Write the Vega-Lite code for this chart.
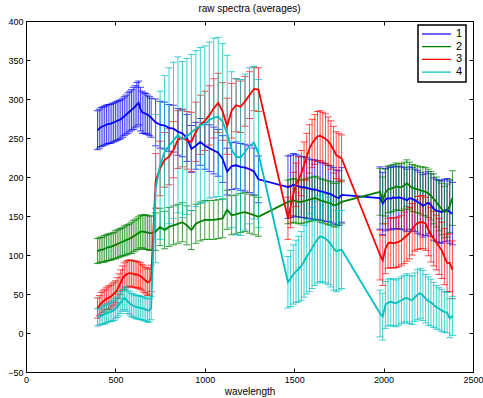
{
 "$schema": "https://vega.github.io/schema/vega-lite/v6.json",
 "width": 447,
 "height": 351,
 "autosize": {"type": "none"},
 "padding": {"left": 26, "top": 21, "right": 10, "bottom": 26},
 "background": "white",
 "title": {"text": "raw spectra (averages)", "fontSize": 10, "fontWeight": "normal", "font": "Liberation Sans", "color": "black", "offset": 3, "frame": "group", "anchor": "middle"},
 "config": {
  "view": {"stroke": "black", "strokeWidth": 1},
  "axis": {"domain": false, "grid": false, "ticks": true, "tickColor": "black", "tickSize": -4, "labelFontSize": 9, "labelFont": "Liberation Sans", "labelColor": "black", "labelPadding": 7, "labelFlush": false, "titleFontSize": 10, "titleFontWeight": "normal", "titleColor": "black", "titleFont": "Liberation Sans", "titlePadding": 2},
  "legend": {"strokeColor": "black", "strokeWidth": 1.5, "fillColor": "white", "padding": 3, "symbolSize": 841, "symbolStrokeWidth": 1.2, "symbolType": "stroke", "labelFontSize": 11, "labelFont": "Liberation Sans", "labelColor": "black", "clipHeight": 12, "rowPadding": 0.7, "labelOffset": 4}
 },
 "data": {"values": [
  {"w":400,"m1":260,"e1":25,"m2":105,"e2":16,"m3":32,"e3":13,"m4":20,"e4":11},
  {"w":410,"m1":262,"e1":25,"m2":106,"e2":16,"m3":35,"e3":13,"m4":21,"e4":11},
  {"w":420,"m1":264,"e1":25,"m2":107,"e2":16,"m3":38,"e3":14,"m4":22,"e4":11},
  {"w":430,"m1":265,"e1":25,"m2":107,"e2":16,"m3":40,"e3":14,"m4":23,"e4":12},
  {"w":440,"m1":266,"e1":25,"m2":108,"e2":17,"m3":42,"e3":14,"m4":24,"e4":12},
  {"w":450,"m1":267,"e1":25,"m2":109,"e2":17,"m3":44,"e3":14,"m4":25,"e4":12},
  {"w":460,"m1":268,"e1":25,"m2":110,"e2":17,"m3":45,"e3":15,"m4":26,"e4":12},
  {"w":470,"m1":268,"e1":25,"m2":110,"e2":17,"m3":46,"e3":15,"m4":27,"e4":12},
  {"w":480,"m1":269,"e1":25,"m2":111,"e2":17,"m3":48,"e3":15,"m4":28,"e4":13},
  {"w":490,"m1":270,"e1":25,"m2":112,"e2":17,"m3":50,"e3":15,"m4":29,"e4":13},
  {"w":500,"m1":271,"e1":25,"m2":113,"e2":18,"m3":52,"e3":15,"m4":31,"e4":13},
  {"w":510,"m1":272,"e1":25,"m2":114,"e2":18,"m3":55,"e3":16,"m4":33,"e4":13},
  {"w":520,"m1":273,"e1":25,"m2":115,"e2":18,"m3":60,"e3":16,"m4":36,"e4":14},
  {"w":530,"m1":274,"e1":25,"m2":116,"e2":18,"m3":65,"e3":16,"m4":39,"e4":14},
  {"w":540,"m1":276,"e1":25,"m2":117,"e2":18,"m3":70,"e3":16,"m4":42,"e4":14},
  {"w":550,"m1":278,"e1":25,"m2":118,"e2":19,"m3":73,"e3":17,"m4":45,"e4":15},
  {"w":560,"m1":280,"e1":25,"m2":119,"e2":19,"m3":75,"e3":17,"m4":43,"e4":15},
  {"w":570,"m1":282,"e1":26,"m2":120,"e2":19,"m3":76,"e3":17,"m4":40,"e4":15},
  {"w":580,"m1":284,"e1":26,"m2":121,"e2":19,"m3":77,"e3":17,"m4":38,"e4":15},
  {"w":590,"m1":286,"e1":26,"m2":122,"e2":20,"m3":76,"e3":17,"m4":36,"e4":15},
  {"w":600,"m1":288,"e1":27,"m2":124,"e2":20,"m3":76,"e3":17,"m4":35,"e4":15},
  {"w":610,"m1":290,"e1":27,"m2":125,"e2":20,"m3":75,"e3":17,"m4":34,"e4":15},
  {"w":620,"m1":293,"e1":28,"m2":127,"e2":20,"m3":75,"e3":17,"m4":33,"e4":15},
  {"w":630,"m1":295,"e1":28,"m2":128,"e2":21,"m3":74,"e3":17,"m4":33,"e4":15},
  {"w":640,"m1":287,"e1":28,"m2":130,"e2":21,"m3":73,"e3":17,"m4":32,"e4":15},
  {"w":650,"m1":283,"e1":27,"m2":130,"e2":21,"m3":71,"e3":17,"m4":32,"e4":15},
  {"w":660,"m1":282,"e1":26,"m2":130,"e2":22,"m3":69,"e3":17,"m4":31,"e4":15},
  {"w":670,"m1":281,"e1":26,"m2":129,"e2":22,"m3":67,"e3":17,"m4":30,"e4":15},
  {"w":680,"m1":280,"e1":25,"m2":129,"e2":22,"m3":65,"e3":17,"m4":29,"e4":15},
  {"w":690,"m1":278,"e1":25,"m2":128,"e2":22,"m3":66,"e3":17,"m4":29,"e4":15},
  {"w":700,"m1":276,"e1":25,"m2":128,"e2":22,"m3":70,"e3":17,"m4":32,"e4":15},
  {"w":725,"m1":270,"e1":30,"m2":130,"e2":24,"m3":195,"e3":35,"m4":185,"e4":95},
  {"w":750,"m1":267,"e1":30,"m2":136,"e2":24,"m3":211,"e3":35,"m4":215,"e4":95},
  {"w":775,"m1":266,"e1":30,"m2":132,"e2":24,"m3":222,"e3":35,"m4":232,"e4":98},
  {"w":800,"m1":263,"e1":30,"m2":136,"e2":25,"m3":226,"e3":36,"m4":240,"e4":100},
  {"w":825,"m1":262,"e1":30,"m2":138,"e2":25,"m3":235,"e3":36,"m4":247,"e4":100},
  {"w":850,"m1":258,"e1":30,"m2":140,"e2":25,"m3":248,"e3":37,"m4":254,"e4":100},
  {"w":875,"m1":256,"e1":30,"m2":142,"e2":25,"m3":250,"e3":37,"m4":248,"e4":100},
  {"w":900,"m1":250,"e1":30,"m2":138,"e2":25,"m3":247,"e3":37,"m4":252,"e4":100},
  {"w":925,"m1":236,"e1":30,"m2":132,"e2":25,"m3":245,"e3":38,"m4":257,"e4":100},
  {"w":950,"m1":240,"e1":30,"m2":140,"e2":25,"m3":258,"e3":38,"m4":262,"e4":100},
  {"w":975,"m1":245,"e1":30,"m2":143,"e2":25,"m3":267,"e3":38,"m4":266,"e4":100},
  {"w":1000,"m1":240,"e1":30,"m2":145,"e2":25,"m3":272,"e3":38,"m4":268,"e4":100},
  {"w":1025,"m1":237,"e1":30,"m2":145,"e2":25,"m3":279,"e3":38,"m4":273,"e4":100},
  {"w":1050,"m1":234,"e1":30,"m2":145,"e2":25,"m3":288,"e3":38,"m4":276,"e4":102},
  {"w":1075,"m1":231,"e1":30,"m2":146,"e2":25,"m3":295,"e3":38,"m4":277,"e4":102},
  {"w":1100,"m1":223,"e1":30,"m2":147,"e2":25,"m3":284,"e3":37,"m4":271,"e4":100},
  {"w":1125,"m1":207,"e1":30,"m2":158,"e2":25,"m3":265,"e3":36,"m4":256,"e4":100},
  {"w":1150,"m1":214,"e1":30,"m2":151,"e2":25,"m3":285,"e3":35,"m4":235,"e4":100},
  {"w":1175,"m1":215,"e1":30,"m2":152,"e2":25,"m3":292,"e3":34,"m4":226,"e4":100},
  {"w":1200,"m1":213,"e1":30,"m2":154,"e2":25,"m3":290,"e3":33,"m4":225,"e4":100},
  {"w":1225,"m1":212,"e1":30,"m2":155,"e2":25,"m3":297,"e3":32,"m4":232,"e4":100},
  {"w":1250,"m1":210,"e1":30,"m2":153,"e2":25,"m3":305,"e3":30,"m4":240,"e4":100},
  {"w":1275,"m1":207,"e1":30,"m2":151,"e2":25,"m3":313,"e3":28,"m4":244,"e4":98},
  {"w":1300,"m1":197,"e1":30,"m2":149,"e2":25,"m3":312,"e3":28,"m4":230,"e4":95},
  {"w":1465,"m1":187,"e1":40,"m2":168,"e2":28,"m3":147,"e3":27,"m4":65,"e4":33},
  {"w":1480,"m1":188,"e1":40,"m2":169,"e2":28,"m3":162,"e3":27,"m4":70,"e4":36},
  {"w":1495,"m1":190,"e1":40,"m2":170,"e2":28,"m3":178,"e3":28,"m4":75,"e4":38},
  {"w":1510,"m1":189,"e1":40,"m2":169,"e2":28,"m3":190,"e3":28,"m4":79,"e4":40},
  {"w":1525,"m1":188,"e1":39,"m2":168,"e2":28,"m3":197,"e3":29,"m4":82,"e4":42},
  {"w":1540,"m1":187,"e1":39,"m2":168,"e2":28,"m3":205,"e3":29,"m4":86,"e4":44},
  {"w":1555,"m1":187,"e1":39,"m2":169,"e2":28,"m3":215,"e3":30,"m4":92,"e4":46},
  {"w":1570,"m1":186,"e1":39,"m2":170,"e2":28,"m3":226,"e3":30,"m4":98,"e4":48},
  {"w":1585,"m1":185,"e1":38,"m2":171,"e2":28,"m3":236,"e3":31,"m4":103,"e4":50},
  {"w":1600,"m1":184,"e1":38,"m2":172,"e2":28,"m3":243,"e3":31,"m4":109,"e4":52},
  {"w":1615,"m1":184,"e1":38,"m2":173,"e2":28,"m3":248,"e3":32,"m4":115,"e4":54},
  {"w":1630,"m1":183,"e1":38,"m2":172,"e2":28,"m3":252,"e3":32,"m4":120,"e4":56},
  {"w":1645,"m1":182,"e1":37,"m2":170,"e2":28,"m3":253,"e3":32,"m4":124,"e4":58},
  {"w":1660,"m1":181,"e1":37,"m2":169,"e2":28,"m3":251,"e3":32,"m4":123,"e4":58},
  {"w":1675,"m1":180,"e1":37,"m2":168,"e2":28,"m3":249,"e3":32,"m4":121,"e4":57},
  {"w":1690,"m1":179,"e1":36,"m2":167,"e2":28,"m3":246,"e3":31,"m4":118,"e4":56},
  {"w":1705,"m1":178,"e1":36,"m2":166,"e2":28,"m3":241,"e3":31,"m4":114,"e4":55},
  {"w":1720,"m1":176,"e1":36,"m2":164,"e2":28,"m3":235,"e3":30,"m4":109,"e4":54},
  {"w":1735,"m1":174,"e1":35,"m2":164,"e2":28,"m3":228,"e3":30,"m4":105,"e4":52},
  {"w":1750,"m1":173,"e1":35,"m2":166,"e2":28,"m3":226,"e3":30,"m4":106,"e4":51},
  {"w":1765,"m1":177,"e1":35,"m2":168,"e2":28,"m3":224,"e3":30,"m4":107,"e4":50},
  {"w":1980,"m1":173,"e1":40,"m2":181,"e2":30,"m3":100,"e3":32,"m4":25,"e4":30},
  {"w":1995,"m1":166,"e1":40,"m2":170,"e2":30,"m3":93,"e3":32,"m4":21,"e4":30},
  {"w":2010,"m1":171,"e1":40,"m2":180,"e2":30,"m3":108,"e3":32,"m4":36,"e4":30},
  {"w":2025,"m1":173,"e1":40,"m2":184,"e2":30,"m3":115,"e3":32,"m4":39,"e4":30},
  {"w":2040,"m1":172,"e1":40,"m2":185,"e2":30,"m3":116,"e3":32,"m4":40,"e4":30},
  {"w":2055,"m1":174,"e1":40,"m2":186,"e2":30,"m3":115,"e3":32,"m4":39,"e4":30},
  {"w":2070,"m1":173,"e1":40,"m2":188,"e2":30,"m3":116,"e3":32,"m4":38,"e4":30},
  {"w":2085,"m1":174,"e1":40,"m2":187,"e2":30,"m3":117,"e3":32,"m4":40,"e4":30},
  {"w":2100,"m1":173,"e1":40,"m2":187,"e2":30,"m3":119,"e3":32,"m4":42,"e4":30},
  {"w":2115,"m1":172,"e1":40,"m2":189,"e2":30,"m3":122,"e3":33,"m4":44,"e4":30},
  {"w":2130,"m1":170,"e1":40,"m2":192,"e2":30,"m3":125,"e3":33,"m4":45,"e4":31},
  {"w":2145,"m1":173,"e1":40,"m2":189,"e2":30,"m3":128,"e3":33,"m4":43,"e4":31},
  {"w":2160,"m1":172,"e1":40,"m2":186,"e2":30,"m3":133,"e3":33,"m4":42,"e4":31},
  {"w":2175,"m1":170,"e1":40,"m2":185,"e2":30,"m3":138,"e3":33,"m4":46,"e4":31},
  {"w":2190,"m1":168,"e1":40,"m2":184,"e2":30,"m3":141,"e3":34,"m4":49,"e4":32},
  {"w":2205,"m1":166,"e1":40,"m2":183,"e2":30,"m3":142,"e3":34,"m4":51,"e4":32},
  {"w":2220,"m1":163,"e1":40,"m2":182,"e2":31,"m3":142,"e3":34,"m4":48,"e4":32},
  {"w":2235,"m1":165,"e1":40,"m2":181,"e2":31,"m3":140,"e3":34,"m4":44,"e4":31},
  {"w":2250,"m1":167,"e1":40,"m2":179,"e2":31,"m3":133,"e3":34,"m4":41,"e4":31},
  {"w":2265,"m1":164,"e1":40,"m2":176,"e2":31,"m3":126,"e3":35,"m4":39,"e4":30},
  {"w":2280,"m1":159,"e1":40,"m2":172,"e2":32,"m3":121,"e3":35,"m4":36,"e4":29},
  {"w":2295,"m1":157,"e1":40,"m2":168,"e2":32,"m3":116,"e3":35,"m4":33,"e4":28},
  {"w":2310,"m1":156,"e1":40,"m2":163,"e2":32,"m3":111,"e3":36,"m4":31,"e4":27},
  {"w":2325,"m1":155,"e1":40,"m2":159,"e2":33,"m3":106,"e3":36,"m4":29,"e4":27},
  {"w":2340,"m1":157,"e1":40,"m2":155,"e2":33,"m3":98,"e3":36,"m4":27,"e4":26},
  {"w":2355,"m1":158,"e1":40,"m2":157,"e2":34,"m3":90,"e3":37,"m4":26,"e4":26},
  {"w":2370,"m1":155,"e1":40,"m2":163,"e2":34,"m3":90,"e3":37,"m4":19,"e4":25},
  {"w":2385,"m1":153,"e1":40,"m2":173,"e2":35,"m3":81,"e3":37,"m4":22,"e4":25}
 ]},
 "layer": [
  {"mark": {"type": "errorbar", "ticks": {"size": 7}, "color": "#0000ff", "opacity": 0.75, "thickness": 1},
   "encoding": {
    "x": {"field": "w", "type": "quantitative", "scale": {"domain": [0, 2500], "nice": false}, "axis": {"orient": "bottom", "values": [0, 500, 1000, 1500, 2000, 2500], "format": "d", "title": "wavelength"}},
    "y": {"field": "m1", "type": "quantitative", "scale": {"domain": [-50, 400], "nice": false}, "axis": {"orient": "left", "values": [-50, 0, 50, 100, 150, 200, 250, 300, 350, 400], "title": null}},
    "yError": {"field": "e1"}}},
  {"mark": {"type": "errorbar", "ticks": {"size": 7}, "color": "#008000", "opacity": 0.75, "thickness": 1},
   "encoding": {
    "x": {"field": "w", "type": "quantitative", "scale": {"domain": [0, 2500], "nice": false}, "axis": null},
    "y": {"field": "m2", "type": "quantitative", "scale": {"domain": [-50, 400], "nice": false}, "axis": null},
    "yError": {"field": "e2"}}},
  {"mark": {"type": "errorbar", "ticks": {"size": 7}, "color": "#ff0000", "opacity": 0.7, "thickness": 1},
   "encoding": {
    "x": {"field": "w", "type": "quantitative", "scale": {"domain": [0, 2500], "nice": false}, "axis": null},
    "y": {"field": "m3", "type": "quantitative", "scale": {"domain": [-50, 400], "nice": false}, "axis": null},
    "yError": {"field": "e3"}}},
  {"mark": {"type": "errorbar", "ticks": {"size": 7}, "color": "#00bfbf", "opacity": 0.75, "thickness": 1},
   "encoding": {
    "x": {"field": "w", "type": "quantitative", "scale": {"domain": [0, 2500], "nice": false}, "axis": null},
    "y": {"field": "m4", "type": "quantitative", "scale": {"domain": [-50, 400], "nice": false}, "axis": null},
    "yError": {"field": "e4"}}},
  {"mark": {"type": "line", "strokeWidth": 1.8},
   "encoding": {
    "x": {"field": "w", "type": "quantitative", "scale": {"domain": [0, 2500], "nice": false}, "axis": null},
    "y": {"field": "m1", "type": "quantitative", "scale": {"domain": [-50, 400], "nice": false}, "axis": null},
    "color": {"datum": "1", "type": "nominal", "scale": {"domain": ["1", "2", "3", "4"], "range": ["#0000ff", "#008000", "#ff0000", "#00bfbf"]}, "legend": {"title": null, "orient": "none", "legendX": 392, "legendY": 4}}}},
  {"mark": {"type": "line", "strokeWidth": 1.8},
   "encoding": {
    "x": {"field": "w", "type": "quantitative", "scale": {"domain": [0, 2500], "nice": false}, "axis": null},
    "y": {"field": "m2", "type": "quantitative", "scale": {"domain": [-50, 400], "nice": false}, "axis": null},
    "color": {"datum": "2", "type": "nominal"}}},
  {"mark": {"type": "line", "strokeWidth": 1.8},
   "encoding": {
    "x": {"field": "w", "type": "quantitative", "scale": {"domain": [0, 2500], "nice": false}, "axis": null},
    "y": {"field": "m3", "type": "quantitative", "scale": {"domain": [-50, 400], "nice": false}, "axis": null},
    "color": {"datum": "3", "type": "nominal"}}},
  {"mark": {"type": "line", "strokeWidth": 1.8},
   "encoding": {
    "x": {"field": "w", "type": "quantitative", "scale": {"domain": [0, 2500], "nice": false}, "axis": {"orient": "top", "values": [0, 500, 1000, 1500, 2000, 2500], "labels": false, "title": null}},
    "y": {"field": "m4", "type": "quantitative", "scale": {"domain": [-50, 400], "nice": false}, "axis": {"orient": "right", "values": [-50, 0, 50, 100, 150, 200, 250, 300, 350, 400], "labels": false, "title": null}},
    "color": {"datum": "4", "type": "nominal"}}}
 ],
 "resolve": {"axis": {"x": "independent", "y": "independent"}}
}
